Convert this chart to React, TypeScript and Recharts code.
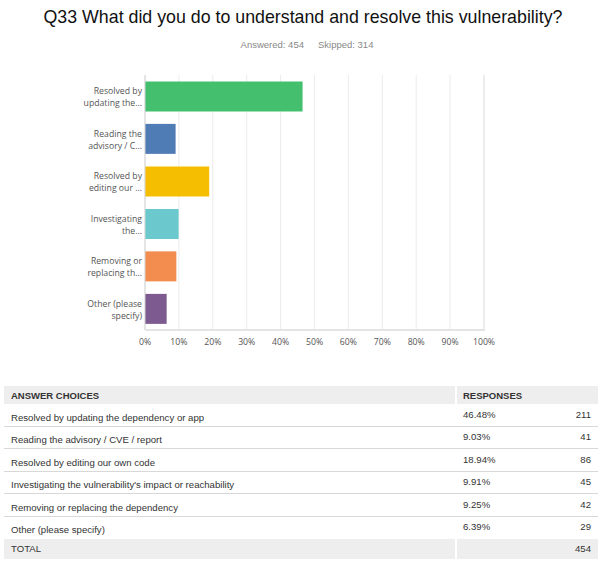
import React from "react";
import { BarChart, Bar, XAxis, YAxis, CartesianGrid, Cell, ReferenceLine } from "recharts";

const TITLE = "Q33 What did you do to understand and resolve this vulnerability?";
const ANSWERED = 454;
const SKIPPED = 314;

const choices = [
  "Resolved by updating the dependency or app",
  "Reading the advisory / CVE / report",
  "Resolved by editing our own code",
  "Investigating the vulnerability's impact or reachability",
  "Removing or replacing the dependency",
  "Other (please specify)",
];
const shortLabels = [
  ["Resolved by", "updating the…"],
  ["Reading the", "advisory / C…"],
  ["Resolved by", "editing our …"],
  ["Investigating", "the…"],
  ["Removing or", "replacing th…"],
  ["Other (please", "specify)"],
];
const percents = [46.48, 9.03, 18.94, 9.91, 9.25, 6.39];
const counts = [211, 41, 86, 45, 42, 29];
const total = 454;
const colors = ["#44bf6e", "#507cb6", "#f5be00", "#6bc8cd", "#f38d4f", "#7d5b91"];
const xTicks = [0, 10, 20, 30, 40, 50, 60, 70, 80, 90, 100];

const data = choices.map((c, i) => ({ name: c, idx: i, value: percents[i] }));

const TICK_FONT = "'Open Sans', 'DejaVu Sans', sans-serif";
const TABLE_FONT = "'Liberation Sans', Arial, sans-serif";

const YTick = (props: any) => {
  const { x, y, payload } = props;
  const lines = shortLabels[payload.index] || [String(payload.value)];
  const tx = x + 3;
  return (
    <text x={tx} y={y} textAnchor="end" fill="#555" fontSize={8.7} fontFamily={TICK_FONT}>
      {lines.map((l, k) => (
        <tspan key={k} x={tx} dy={k === 0 ? -2 : 12}>
          {l}
        </tspan>
      ))}
    </text>
  );
};

const XTick = (props: any) => {
  const { x, y, payload } = props;
  return (
    <text x={x} y={y + 6.5} textAnchor="middle" fill="#555" fontSize={8.7} fontFamily={TICK_FONT}>
      {payload.value}%
    </text>
  );
};

export default function App() {
  return (
    <div style={{ position: "absolute", left: 0, top: 0, width: 606, height: 568, background: "#fff", overflow: "hidden" }}>
      <div
        style={{
          position: "absolute",
          left: 0,
          top: 7,
          width: 606,
          textAlign: "center",
          fontFamily: "'Liberation Sans', Arial, sans-serif",
          fontSize: 17.8,
          color: "#111",
        }}
      >
        {TITLE}
      </div>
      <div
        style={{
          position: "absolute",
          left: 0,
          top: 39,
          width: 614,
          textAlign: "center",
          fontFamily: TABLE_FONT,
          fontSize: 9.5,
          color: "#888",
        }}
      >
        {`Answered: ${ANSWERED}`}
        <span style={{ display: "inline-block", width: 14 }} />
        {`Skipped: ${SKIPPED}`}
      </div>
      <div style={{ position: "absolute", left: 0, top: 0 }}>
        <BarChart
          width={606}
          height={360}
          data={data}
          layout="vertical"
          margin={{ top: 75, right: 122, bottom: 0, left: 0 }}
          barCategoryGap="15%"
        >
          <CartesianGrid horizontal={false} vertical={true} stroke="#ececec" strokeWidth={1} />
          <XAxis
            type="number"
            domain={[0, 100]}
            ticks={xTicks}
            interval={0}
            axisLine={false}
            tickLine={false}
            tick={<XTick />}
            height={30}
          />
          <YAxis
            type="category"
            dataKey="name"
            width={145}
            axisLine={{ stroke: "#d4d4d4" }}
            tickLine={false}
            tick={<YTick />}
            tickMargin={0}
            interval={0}
          />
          <ReferenceLine x={100} stroke="#e4e4e4" />
          <Bar dataKey="value" isAnimationActive={false}>
            {data.map((d, i) => (
              <Cell key={i} fill={colors[i]} />
            ))}
          </Bar>
        </BarChart>
      </div>
      <div style={{ position: "absolute", left: 145, top: 329, width: 340, height: 2, background: "#e4e4e4" }} />
      <div
        style={{
          position: "absolute",
          left: 4,
          top: 386,
          width: 594,
          fontFamily: TABLE_FONT,
          color: "#333",
          fontSize: 9.6,
        }}
      >
        <div style={{ display: "flex", height: 18 }}>
          <div style={{ width: 451, background: "#eeeeee", fontWeight: "bold", fontSize: 9.5, paddingLeft: 7, lineHeight: "19px", boxSizing: "border-box" }}>
            ANSWER CHOICES
          </div>
          <div style={{ width: 2 }} />
          <div style={{ width: 141, background: "#eeeeee", fontWeight: "bold", fontSize: 9.5, paddingLeft: 6, lineHeight: "19px", boxSizing: "border-box" }}>
            RESPONSES
          </div>
        </div>
        {choices.map((c, i) => (
          <div
            key={i}
            style={{
              display: "flex",
              height: 22.5,
              borderBottom: i < choices.length - 1 ? "1px solid #d8d8d8" : "none",
              boxSizing: "border-box",
              position: "relative",
            }}
          >
            <div style={{ width: 451, paddingLeft: 7, paddingTop: 7.5, boxSizing: "border-box" }}>{c}</div>
            <div style={{ width: 2 }} />
            <div style={{ width: 141, display: "flex", justifyContent: "space-between", paddingLeft: 6, paddingRight: 7, paddingTop: 4.5, boxSizing: "border-box" }}>
              <span>{percents[i].toFixed(2)}%</span>
              <span>{counts[i]}</span>
            </div>
          </div>
        ))}
        <div style={{ display: "flex", height: 20 }}>
          <div style={{ width: 451, background: "#eeeeee", paddingLeft: 7, lineHeight: "20px", boxSizing: "border-box" }}>TOTAL</div>
          <div style={{ width: 2 }} />
          <div style={{ width: 141, background: "#eeeeee", textAlign: "right", paddingRight: 7, lineHeight: "20px", boxSizing: "border-box" }}>
            {total}
          </div>
        </div>
      </div>
    </div>
  );
}
